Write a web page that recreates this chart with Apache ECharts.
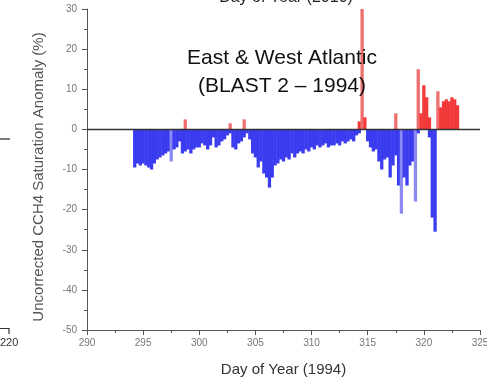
<!DOCTYPE html>
<html><head><meta charset="utf-8">
<script src="https://cdn.jsdelivr.net/npm/echarts@6/dist/echarts.min.js"></script>
<style>html,body{margin:0;padding:0;background:#fff}#c{width:487px;height:379px}</style>
</head><body><div id="c"></div>
<script>
// Day of year (1994), every 6 hours
const days = [
  294.25,294.5,294.75,
  295,295.25,295.5,295.75, 296,296.25,296.5,296.75, 297,297.25,297.5,297.75,
  298,298.25,298.5,298.75, 299,299.25,299.5,299.75, 300,300.25,300.5,300.75,
  301,301.25,301.5,301.75, 302,302.25,302.5,302.75, 303,303.25,303.5,303.75,
  304,304.25,304.5,304.75, 305,305.25,305.5,305.75, 306,306.25,306.5,306.75,
  307,307.25,307.5,307.75, 308,308.25,308.5,308.75, 309,309.25,309.5,309.75,
  310,310.25,310.5,310.75, 311,311.25,311.5,311.75, 312,312.25,312.5,312.75,
  313,313.25,313.5,313.75, 314,314.25,314.5,314.75, 315,315.25,315.5,315.75,
  316,316.25,316.5,316.75, 317,317.25,317.5,317.75, 318,318.25,318.5,318.75,
  319,319.25,319.5,319.75, 320,320.25,320.5,320.75, 321,321.25,321.5,321.75,
  322,322.25,322.5,322.75, 323
];
// Negative anomalies (blue)
const negVals = [
  -9.5,-8.5,-9,
  -8.5,-9,-9.5,-10, -8.5,-7.5,-7,-6.5, -6,-5.5,-8,-5,
  -4.5,-3,-6,-5.5, -5,-6,-5,-4.5, -4.5,-3.5,-4,-5,
  -4,-2,-4.5,-4, -3,-2.5,-1.5,-1, -4.5,-5,-3.5,-3,
  -2,-1,-2.5,-6, -7,-9.5,-8,-11, -12,-14.5,-12,-9,
  -8.5,-7.5,-8,-7, -7.5,-6,-7,-6, -5.5,-6,-5,-5.5,
  -4.5,-5,-4,-4.5, -4,-3.5,-4.5,-4, -4,-3.5,-4,-3,
  -3.5,-3,-2.5,-3, -1.5,-1,0,0, -3,-4.5,-5.5,-5,
  -8,-10,-7.5,-7, -12,-9,-6.5,-14, -21,-12,-14,-9,
  -8,-18,-1,0, 0,0,-2,-22, -25.5,0,0,0,
  0,0,0,0, 0
];
// Positive anomalies (red)
const posVals = [
  0,0,0,
  0,0,0,0, 0,0,0,0, 0,0,0,0,
  0,0,0,2.5, 0,0,0,0, 0,0,0,0,
  0,0,0,0, 0,0,0,1.5, 0,0,0,0,
  2.5,0,0,0, 0,0,0,0, 0,0,0,0,
  0,0,0,0, 0,0,0,0, 0,0,0,0,
  0,0,0,0, 0,0,0,0, 0,0,0,0,
  0,0,0,0, 0,2,30,3, 0,0,0,0,
  0,0,0,0, 0,0,4,0, 0,0,0,0,
  0,0,15,4, 11,8,3,0, 0,9.5,5.5,7,
  7.5,7,8,7.5, 6
];
const xTicks = {min: 290, max: 325, interval: 5};
const yTicks = {min: -50, max: 30, interval: 10};

// thin isolated spikes look paler in the original
function isSpike(arr, i, ratio) {
  const v = Math.abs(arr[i]);
  const a = Math.abs(arr[i - 1] || 0), b = Math.abs(arr[i + 1] || 0);
  return v > 0 && v > ratio * Math.max(a, b);
}

const chart = echarts.init(document.getElementById('c'), null, {renderer: 'canvas'});
const axisCol = '#555';
const labelCol = '#777';
chart.setOption({
  animation: false,
  backgroundColor: '#fff',
  grid: {left: 87, right: 7, top: 9, bottom: 49, containLabel: false, outerBoundsMode: 'none'},
  xAxis: {
    type: 'value', min: xTicks.min, max: xTicks.max, interval: xTicks.interval,
    name: 'Day of Year (1994)', nameLocation: 'middle', nameGap: 32,
    nameTextStyle: {fontFamily: 'Liberation Sans', fontSize: 15, color: '#333'},
    axisLine: {show: true, onZero: false, lineStyle: {color: axisCol, width: 1}},
    axisTick: {show: true, length: 5, lineStyle: {color: axisCol}},
    minorTick: {show: true, splitNumber: 2, length: 3, lineStyle: {color: axisCol}},
    axisLabel: {fontFamily: 'Liberation Sans', fontSize: 10, color: labelCol, margin: 8},
    splitLine: {show: false}
  },
  yAxis: {
    type: 'value', min: yTicks.min, max: yTicks.max, interval: yTicks.interval,
    axisLine: {show: true, onZero: false, lineStyle: {color: axisCol, width: 1}},
    axisTick: {show: true, length: 5, lineStyle: {color: axisCol}},
    minorTick: {show: true, splitNumber: 2, length: 3, lineStyle: {color: axisCol}},
    axisLabel: {fontFamily: 'Liberation Sans', fontSize: 10, color: labelCol, margin: 10},
    splitLine: {show: false}
  },
  series: [
    {
      type: 'bar', name: 'neg', barWidth: 3.3, barGap: '-100%',
      data: days.map((d, i) => [d, negVals[i]]),
      itemStyle: {color: p => isSpike(negVals, p.dataIndex, 1.4) ? '#8a8af2' : '#3b3bf0'}
    },
    {
      type: 'bar', name: 'pos', barWidth: 3.3, barGap: '-100%',
      data: days.map((d, i) => [d, posVals[i]]),
      itemStyle: {color: p => isSpike(posVals, p.dataIndex, 1.5) ? '#ef6f6f' : '#f23a3a'},
      markLine: {
        silent: true, symbol: ['none', 'none'], label: {show: false},
        lineStyle: {color: '#333', width: 1.3, type: 'solid'},
        data: [{yAxis: 0}]
      }
    }
  ],
  graphic: [
    {type: 'text', z: 100, x: 39, y: 177, rotation: Math.PI / 2, style: {text: 'Uncorrected CCH4 Saturation Anomaly (%)', fontFamily: 'Liberation Sans', fontSize: 15, fill: '#555', align: 'center', verticalAlign: 'middle'}},
    {type: 'text', z: 100, x: 286, y: 6, style: {text: 'Day of Year (2010)', fontFamily: 'Liberation Sans', fontSize: 16, fill: '#222', align: 'center', verticalAlign: 'bottom'}},
    {type: 'text', z: 100, x: 282, y: 58, style: {text: 'East & West Atlantic', fontFamily: 'Liberation Sans', fontSize: 21, fill: '#111', align: 'center', verticalAlign: 'middle'}},
    {type: 'text', z: 100, x: 282, y: 86, style: {text: '(BLAST 2 \u2013 1994)', fontFamily: 'Liberation Sans', fontSize: 21, fill: '#111', align: 'center', verticalAlign: 'middle'}},
    {type: 'line', z: 100, shape: {x1: 0, y1: 139, x2: 10, y2: 139}, style: {stroke: '#333', lineWidth: 1.3}},
    {type: 'polyline', z: 100, shape: {points: [[0, 328.5], [9, 328.5], [9, 334]]}, style: {stroke: '#333', lineWidth: 1.2, fill: null}},
    {type: 'text', z: 100, x: 0, y: 343, style: {text: '220', fontFamily: 'Liberation Sans', fontSize: 11, fill: '#333', align: 'left', verticalAlign: 'middle'}}
  ]
});
</script>
</body></html>
